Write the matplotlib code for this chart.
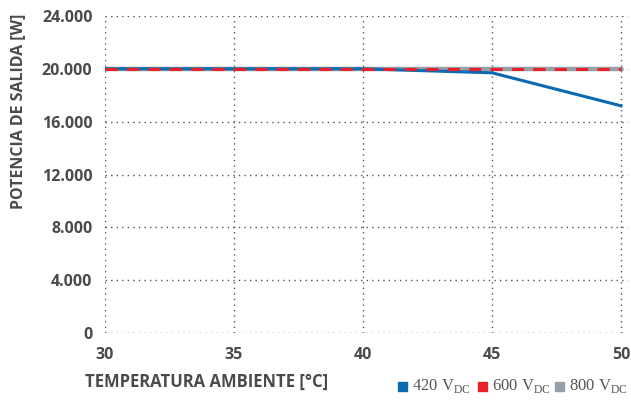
import numpy as np
import matplotlib.pyplot as plt
from matplotlib.patches import Rectangle

# temperature (C) and output power (W) for each DC input voltage
temps = [30, 35, 40, 45, 50]
p_420 = [20000, 20000, 20000, 19700, 17200]
p_600 = [20000, 20000, 20000, 20000, 20000]
p_800 = [20000, 20000, 20000, 20000, 20000]

series_labels = ['420', '600', '800']
series_colors = ['#0a6ab4', '#e8212b', '#97a0a6']

yticks = [0, 4000, 8000, 12000, 16000, 20000, 24000]
ytick_labels = ['0', '4.000', '8.000', '12.000', '16.000', '20.000', '24.000']

txt = '#4a4a4a'
sans = ['Open Sans', 'DejaVu Sans']

fig = plt.figure(figsize=(6.31, 4.07), dpi=100)
ax = fig.add_axes([105/631, (407-333)/407, (628-105)/631, (333-16)/407])

ax.plot(temps, p_800, color=series_colors[2], lw=3.2, zorder=3)
ax.plot(temps, p_420, color=series_colors[0], lw=2.2, zorder=4)
ax.plot(temps, p_600, color=series_colors[1], lw=2.2, ls=(0, (4, 3)), zorder=5)

ax.set_xlim(30, 50.27)
ax.set_ylim(0, 24000)
ax.set_xticks(temps)
ax.set_yticks(yticks)
ax.set_yticklabels(ytick_labels)
for s in ax.spines.values():
    s.set_visible(False)
ax.grid(True, color='#555555', ls=(0, (1, 3)), lw=1.0)
ax.tick_params(length=0, labelcolor=txt, labelsize=11.5, pad=9)
ax.tick_params(axis='x', pad=10)
for lab in ax.get_xticklabels() + ax.get_yticklabels():
    lab.set_fontweight('bold')
    lab.set_family(sans)

fig.text(18/631, 1 - 14/407, 'POTENCIA DE SALIDA [W]', rotation=90, ha='center', va='top',
         fontsize=11.5, fontweight='bold', color=txt, family=sans)
fig.text(85/631, 1 - 382/407, 'TEMPERATURA AMBIENTE [°C]', ha='left', va='center',
         fontsize=12, fontweight='bold', color=txt, family=sans)

# legend at the bottom right: colored squares with serif labels
leg_x = [398, 478, 555]
for x0, lab, col in zip(leg_x, series_labels, series_colors):
    fig.patches.append(Rectangle((x0/631, 1 - 391/407), 9/631, 9/407,
                                 transform=fig.transFigure, color=col))
    fig.text((x0 + 14)/631, 1 - 386/407, lab + r' V$_\mathregular{DC}$', ha='left', va='center',
             fontsize=12, color='#555555', family='Liberation Serif')

fig.savefig('out.png', dpi=100)
